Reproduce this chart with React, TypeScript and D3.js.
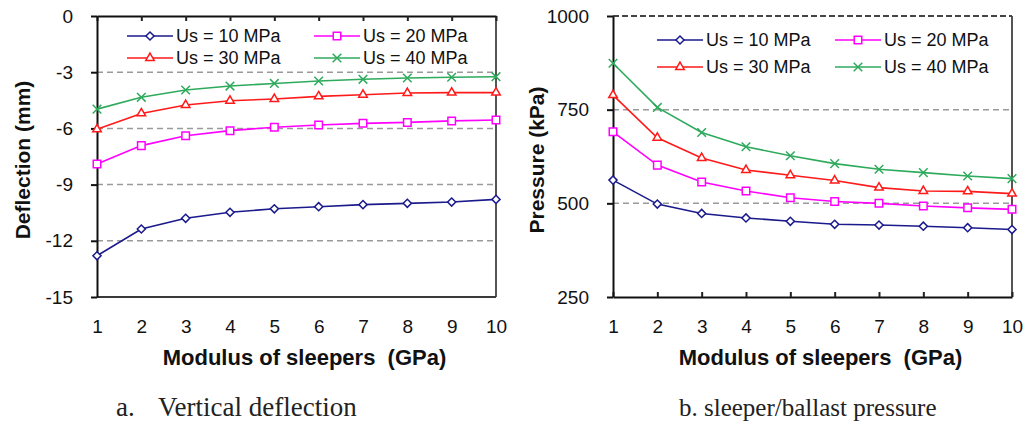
import React, { useRef, useEffect } from "react"
import * as d3 from "d3"

// modulus of sleepers (GPa)
const modulus = [1, 2, 3, 4, 5, 6, 7, 8, 9, 10]
const seriesNames = ["Us = 10 MPa", "Us = 20 MPa", "Us = 30 MPa", "Us = 40 MPa"]
const seriesColors = ["#1a1a8c", "#ff00ff", "#ff1a1a", "#2eaa5c"]
const markerKinds = ["diamond", "square", "triangle", "x"]

// a. vertical deflection (mm)
const deflection10 = [-12.8, -11.37, -10.8, -10.48, -10.29, -10.18, -10.07, -10.0, -9.93, -9.79]
const deflection20 = [-7.9, -6.92, -6.39, -6.12, -5.94, -5.82, -5.73, -5.68, -5.6, -5.55]
const deflection30 = [-6.05, -5.2, -4.75, -4.52, -4.43, -4.29, -4.2, -4.11, -4.09, -4.09]
const deflection40 = [-4.97, -4.34, -3.95, -3.74, -3.6, -3.47, -3.38, -3.31, -3.27, -3.24]
const deflectionTicks = [-15, -12, -9, -6, -3, 0]

// b. sleeper/ballast pressure (kPa)
const pressure10 = [562, 498, 473, 461, 452, 444, 442, 439, 435, 430]
const pressure20 = [691, 602, 557, 533, 515, 505, 500, 493, 488, 484]
const pressure30 = [789, 675, 621, 589, 575, 561, 542, 533, 532, 526]
const pressure40 = [874, 756, 689, 651, 627, 606, 591, 582, 573, 566]
const pressureTicks = [250, 500, 750, 1000]

const sansFont = "'Liberation Sans', Arial, sans-serif"
const serifFont = "'Liberation Serif', 'Times New Roman', serif"

function markerPath(kind) {
  let type = d3.symbolDiamond2 || d3.symbolDiamond
  let size = 42
  if (kind === "square") {
    type = d3.symbolSquare2 || d3.symbolSquare
    size = 72
  } else if (kind === "triangle") {
    type = d3.symbolTriangle2 || d3.symbolTriangle
    size = 52
  } else if (kind === "x") {
    type = d3.symbolX || d3.symbolCross
    size = 50
  }
  return d3.symbol().type(type).size(size)()
}

function drawPanel(svg, cfg) {
  const top = 16,
    bottom = 297
  const x = d3.scaleLinear().domain([1, 10]).range([cfg.left, cfg.right])
  const y = d3.scaleLinear().domain(cfg.yDomain).range([bottom, top])
  const g = svg.append("g")

  // dashed gridlines
  g.selectAll(".grid")
    .data(cfg.grid)
    .join("line")
    .attr("x1", cfg.left)
    .attr("x2", cfg.right)
    .attr("y1", d => y(d))
    .attr("y2", d => y(d))
    .attr("stroke", "#9a9a9a")
    .attr("stroke-width", 1.5)
    .attr("stroke-dasharray", "6 4")

  // plot border (right + far side)
  g.append("line")
    .attr("x1", cfg.right)
    .attr("x2", cfg.right)
    .attr("y1", top)
    .attr("y2", bottom)
    .attr("stroke", "#555")
    .attr("stroke-width", 2)
  if (cfg.axisAtTop) {
    g.append("line")
      .attr("x1", cfg.left)
      .attr("x2", cfg.right)
      .attr("y1", bottom)
      .attr("y2", bottom)
      .attr("stroke", "#3a3a3a")
      .attr("stroke-width", 2)
  } else {
    g.append("line")
      .attr("x1", cfg.left)
      .attr("x2", cfg.right)
      .attr("y1", top)
      .attr("y2", top)
      .attr("stroke", "#444")
      .attr("stroke-width", 2)
      .attr("stroke-dasharray", "6 3")
  }

  // category axis with inside ticks
  const xAxisY = cfg.axisAtTop ? top : bottom
  const xAxis = (cfg.axisAtTop ? d3.axisTop(x) : d3.axisBottom(x))
    .tickValues(modulus)
    .tickSizeInner(-5)
    .tickSizeOuter(0)
    .tickFormat("")
  g.append("g")
    .attr("transform", `translate(0,${xAxisY})`)
    .call(xAxis)
    .call(a => a.select(".domain").attr("stroke", "#111").attr("stroke-width", 2))
    .call(a => a.selectAll(".tick line").attr("stroke", "#222").attr("stroke-width", 2))

  // category labels always below the plot
  g.append("g")
    .attr("transform", `translate(0,${bottom})`)
    .call(d3.axisBottom(x).tickValues(modulus).tickSize(0).tickPadding(23).tickFormat(d => String(d)))
    .call(a => a.select(".domain").remove())
    .call(a =>
      a.selectAll("text")
        .attr("font-size", 19)
        .attr("font-family", sansFont)
        .attr("fill", "#111")
    )

  // value axis
  g.append("g")
    .attr("transform", `translate(${cfg.left},0)`)
    .call(
      d3
        .axisLeft(y)
        .tickValues(cfg.yTicks)
        .tickSizeInner(6)
        .tickSizeOuter(0)
        .tickPadding(18)
        .tickFormat(d => String(d))
    )
    .call(a => a.select(".domain").attr("stroke", "#111").attr("stroke-width", 2))
    .call(a => a.selectAll(".tick line").attr("stroke", "#111").attr("stroke-width", 2))
    .call(a =>
      a.selectAll("text")
        .attr("font-size", 19)
        .attr("font-family", sansFont)
        .attr("fill", "#111")
    )

  // series
  const line = d3
    .line()
    .x((d, i) => x(modulus[i]))
    .y(d => y(d))
  cfg.series.forEach((values, si) => {
    const color = seriesColors[si]
    g.append("path")
      .attr("d", line(values))
      .attr("fill", "none")
      .attr("stroke", color)
      .attr("stroke-width", 1.6)
    g.selectAll(".pt" + si)
      .data(values)
      .join("path")
      .attr("d", markerPath(markerKinds[si]))
      .attr("transform", (d, i) => `translate(${x(modulus[i])},${y(d)})`)
      .attr("fill", "white")
      .attr("stroke", color)
      .attr("stroke-width", 1.5)
  })

  // legend
  seriesNames.forEach((name, si) => {
    const col = si % 2,
      row = Math.floor(si / 2)
    const lx = cfg.legendX[col]
    const ly = cfg.legendY[row]
    const color = seriesColors[si]
    g.append("line")
      .attr("x1", lx)
      .attr("x2", lx + 46)
      .attr("y1", ly)
      .attr("y2", ly)
      .attr("stroke", color)
      .attr("stroke-width", 1.6)
    g.append("path")
      .attr("d", markerPath(markerKinds[si]))
      .attr("transform", `translate(${lx + 23},${ly})`)
      .attr("fill", "white")
      .attr("stroke", color)
      .attr("stroke-width", 1.5)
    g.append("text")
      .attr("x", lx + 49)
      .attr("y", ly)
      .attr("dy", "0.36em")
      .attr("font-size", 18)
      .attr("font-family", sansFont)
      .attr("fill", "#111")
      .text(name)
  })

  // titles
  g.append("text")
    .attr("x", (cfg.left + cfg.right) / 2 + 8)
    .attr("y", 365)
    .attr("text-anchor", "middle")
    .attr("font-size", 22)
    .attr("font-weight", "bold")
    .attr("font-family", sansFont)
    .attr("fill", "#111")
    .style("white-space", "pre")
    .text("Modulus of sleepers  (GPa)")
  g.append("text")
    .attr("transform", `translate(${cfg.yTitleX},160) rotate(-90)`)
    .attr("text-anchor", "middle")
    .attr("dy", "0.35em")
    .attr("font-size", 21)
    .attr("font-weight", "bold")
    .attr("font-family", sansFont)
    .attr("fill", "#111")
    .text(cfg.yTitle)
}

function App() {
  const ref = useRef(null)

  useEffect(() => {
    const svg = d3.select(ref.current)
    svg.selectAll("*").remove()

    drawPanel(svg, {
      left: 97,
      right: 496,
      yDomain: [-15, 0],
      yTicks: deflectionTicks,
      grid: [-12, -9, -6, -3],
      axisAtTop: true,
      series: [deflection10, deflection20, deflection30, deflection40],
      legendX: [127, 314],
      legendY: [36, 58],
      yTitle: "Deflection (mm)",
      yTitleX: 23,
    })
    drawPanel(svg, {
      left: 613,
      right: 1012,
      yDomain: [250, 1000],
      yTicks: pressureTicks,
      grid: [500, 750],
      axisAtTop: false,
      series: [pressure10, pressure20, pressure30, pressure40],
      legendX: [657, 835],
      legendY: [40, 67],
      yTitle: "Pressure (kPa)",
      yTitleX: 537,
    })

    // captions
    const cap = svg
      .append("text")
      .attr("y", 416)
      .attr("font-size", 27)
      .attr("font-family", serifFont)
      .attr("fill", "#222")
    cap.append("tspan").attr("x", 116).text("a.")
    cap.append("tspan").attr("x", 158).text("Vertical deflection")
    svg
      .append("text")
      .attr("x", 679)
      .attr("y", 416)
      .attr("font-size", 25)
      .attr("font-family", serifFont)
      .attr("fill", "#222")
      .text("b. sleeper/ballast pressure")
  }, [])

  return (
    <div style={{ position: "absolute", left: 0, top: 0 }}>
      <svg ref={ref} width={1030} height={425} style={{ display: "block", background: "white" }} />
    </div>
  )
}

export default App
